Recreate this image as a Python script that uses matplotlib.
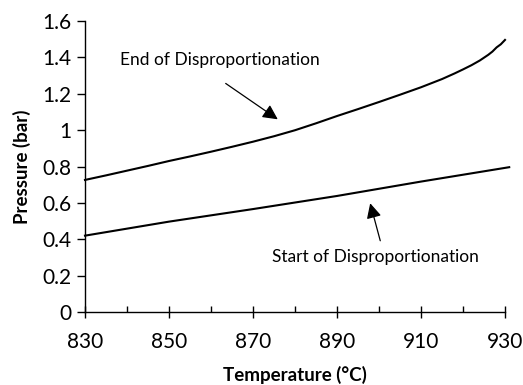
import matplotlib
matplotlib.use("Agg")
import matplotlib.pyplot as plt

plt.rcParams['font.family'] = ['Lato', 'DejaVu Sans']

temp_end = [830, 835, 840, 845, 850, 855, 860, 865, 870, 875, 880, 885, 890, 895, 900, 905, 910, 915, 918, 920, 922, 924, 926, 927, 928, 929, 930]
p_end = [0.727, 0.752, 0.778, 0.804, 0.831, 0.856, 0.882, 0.909, 0.937, 0.967, 1.0, 1.038, 1.078, 1.116, 1.155, 1.195, 1.236, 1.281, 1.312, 1.334, 1.357, 1.383, 1.414, 1.432, 1.455, 1.472, 1.496]
temp_start = [830, 850, 870, 890, 910, 931]
p_start = [0.421, 0.498, 0.567, 0.639, 0.718, 0.797]
x_ticks = [830, 850, 870, 890, 910, 930]
x_minor = [840, 860, 880, 900, 920]
y_ticks = [0, 0.2, 0.4, 0.6, 0.8, 1.0, 1.2, 1.4, 1.6]
y_labels = ['0', '0.2', '0.4', '0.6', '0.8', '1', '1.2', '1.4', '1.6']

fig = plt.figure(figsize=(5.23, 3.85), dpi=100)
ax = fig.add_axes([0.1625, 0.1888, 0.8031, 0.7567])
ax.plot(temp_end, p_end, color='black', lw=1.5, clip_on=False)
ax.plot(temp_start, p_start, color='black', lw=1.5, clip_on=False)

ax.set_xlim(830, 930)
ax.set_ylim(0, 1.6)
ax.set_xticks(x_ticks)
ax.set_xticks(x_minor, minor=True)
ax.set_yticks(y_ticks)
ax.set_yticklabels(y_labels)
for s in ['top', 'right']:
    ax.spines[s].set_visible(False)
for s in ['left', 'bottom']:
    ax.spines[s].set_linewidth(1.0)
ax.tick_params(axis='x', which='major', direction='inout', length=8, width=1, labelsize=15, pad=10)
ax.tick_params(axis='x', which='minor', direction='in', length=4, width=1)
ax.tick_params(axis='y', which='major', direction='out', length=6, width=1, labelsize=15, pad=4)

ax.set_xlabel('Temperature (°C)', fontsize=13.5, fontweight='bold', labelpad=10)
ax.set_ylabel('Pressure (bar)', fontsize=13.5, fontweight='bold', labelpad=8)

ax.text(838.3, 1.386, 'End of Disproportionation', fontsize=12.5, va='center', ha='left')
ax.text(874.5, 0.304, 'Start of Disproportionation', fontsize=12.5, va='center', ha='left')

ax.annotate('', xy=(875.9, 1.06), xytext=(863.5, 1.257),
            arrowprops=dict(arrowstyle='-|>,head_length=0.9,head_width=0.45', color='black', lw=0.9,
                            shrinkA=0, shrinkB=0))
ax.annotate('', xy=(897.9, 0.599), xytext=(900.3, 0.393),
            arrowprops=dict(arrowstyle='-|>,head_length=0.9,head_width=0.45', color='black', lw=0.9,
                            shrinkA=0, shrinkB=0))

fig.savefig('out.png', dpi=100)
